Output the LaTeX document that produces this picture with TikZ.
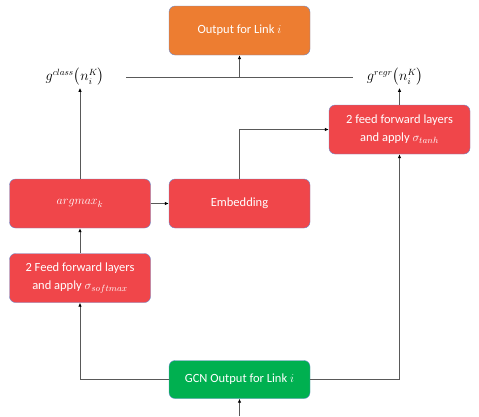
\documentclass[tikz,border=0pt]{standalone}
\usepackage{fontspec,amsmath}
\setmainfont{Carlito}
\usetikzlibrary{arrows.meta}
\definecolor{boxred}{HTML}{F0464A}
\definecolor{boxorange}{HTML}{ED7D31}
\definecolor{boxgreen}{HTML}{00B050}
\definecolor{boxline}{HTML}{6A8CD0}
\tikzstyle{box}=[rectangle, rounded corners=6pt, draw=boxline, thin, text=white, minimum width=141pt, minimum height=49pt, align=center, font=\fontsize{12.5}{18}\selectfont]
\tikzstyle{lab}=[inner sep=2pt, font=\fontsize{13.5}{15}\selectfont]
\tikzstyle{arr}=[draw=black!65, thick, -{Latex[length=4pt,width=3.5pt,color=black]}]

\begin{document}
\begin{tikzpicture}[x=1pt, y=-1pt]
                    \useasboundingbox (0,0) rectangle (479,416);
                    \node[box, fill=boxorange] (out) at (239.5,30.5) {Output for Link $i$};
                    \node[lab] (gc) at (75,77) {$g^{class}\bigl(n_i^K\bigr)$};
                    \node[lab] (gr) at (395,77) {$g^{regr}\bigl(n_i^K\bigr)$};
                    \node[box, fill=boxred] (am) at (80,203.5) {$argmax_k$};
                    \node[box, fill=boxred] (emb) at (239.5,203.5) {Embedding};
                    \node[box, fill=boxred] (ff2) at (399.5,129.5) {2 feed forward layers\\and apply $\sigma_{tanh}$};
                    \node[box, fill=boxred] (ff1) at (80,278) {2 Feed forward layers\\and apply $\sigma_{softmax}$};
                    \node[box, fill=boxgreen, minimum height=38pt] (gcn) at (239.5,379.5) {GCN Output for Link $i$};
                    \coordinate (jl) at (126,77);
                    \coordinate (jr) at (353,77);
                    \coordinate (jm) at (239.5,77);
                    \coordinate (in) at (239.5,416);
                    \draw[draw=black!65, thick] (jl) -- (jr);
                    \draw[arr] (jm) -- (out);
                    \draw[arr] (am) -- (am.north |- gc.south);
                    \draw[arr] (ff2) -- (ff2.north |- gr.south);
                    \draw[arr] (am) -- (emb);
                    \draw[arr] (emb.north) |- (ff2.west);
                    \draw[arr] (ff1) -- (am);
                    \draw[arr] (gcn.west) -| (ff1.south);
                    \draw[arr] (gcn.east) -| (ff2.south);
                    \draw[arr] (in) -- (gcn);
                    \end{tikzpicture}
\end{document}
